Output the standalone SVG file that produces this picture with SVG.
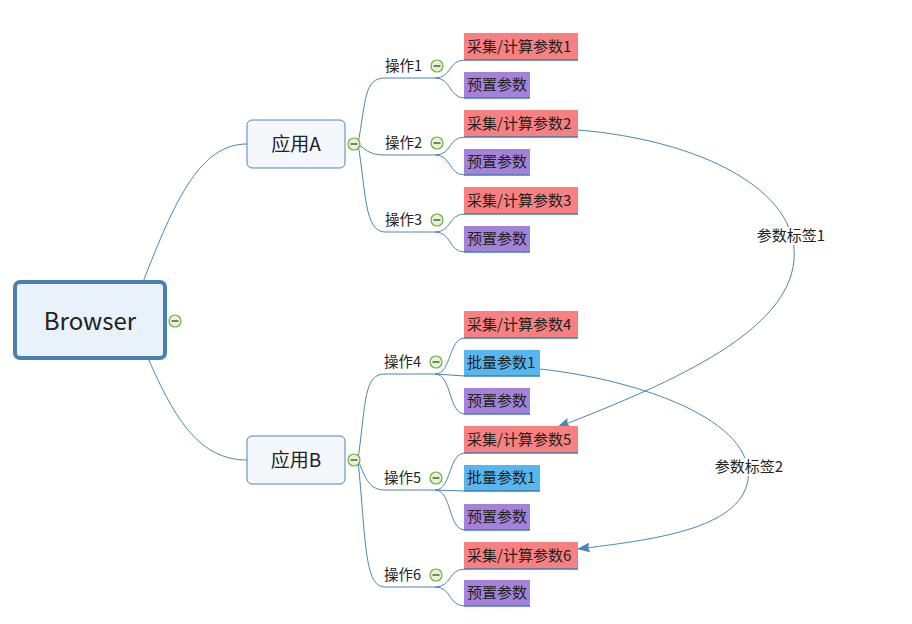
<svg xmlns="http://www.w3.org/2000/svg" width="912" height="624" viewBox="0 0 912 624">
<defs>
<style>
text{font-family:"Microsoft YaHei","Noto Sans CJK SC","Noto Sans",sans-serif;fill:#222}
.ln{fill:none;stroke:#4a86b4;stroke-width:1}
.red{fill:#f88080}
.pur{fill:#a582da}
.blu{fill:#58b6ee}
.bl{stroke:#3f7eb0;stroke-width:1.5}
.t{font-size:15px}
.o{font-size:14.5px}
.cc{fill:#e6f4d4;stroke:#6aae3c;stroke-width:1.2}
.cm{stroke:#333;stroke-width:1.2}
</style>
<marker id="ah" viewBox="0 0 13 10" refX="12" refY="5" markerWidth="13" markerHeight="10" markerUnits="userSpaceOnUse" orient="auto">
<path d="M0,0 L13,5 L0,10 L2,5 Z" fill="#4a86b4"/>
</marker>
</defs>
<rect width="912" height="624" fill="#fff"/>
<g id="connectors">
<path class="ln" d="M143,282 C175,200 200,144 247,144"/>
<path class="ln" d="M148,358 C175,420 200,460 247,460"/>
<path class="ln" d="M358,144 C366,100 364,78 385,78 L435,78"/>
<path class="ln" d="M358,144 C366,150 370,155 385,155 L435,155"/>
<path class="ln" d="M358,144 C366,190 364,232 385,232 L435,232"/>
<path class="ln" d="M358,460 C366,400 364,374 385,374 L435,374"/>
<path class="ln" d="M358,460 C366,480 370,490 385,490 L435,490"/>
<path class="ln" d="M358,460 C366,540 364,587 385,587 L435,587"/>
<path class="ln" d="M435,78 C452,78 448,60 465,60"/>
<path class="ln" d="M435,78 C452,78 448,98 465,98"/>
<path class="ln" d="M435,155 C452,155 448,137 465,137"/>
<path class="ln" d="M435,155 C452,155 448,175 465,175"/>
<path class="ln" d="M435,232 C452,232 448,214 465,214"/>
<path class="ln" d="M435,232 C452,232 448,252 465,252"/>
<path class="ln" d="M435,374 C452,374 448,338 465,338"/>
<path class="ln" d="M435,374 L465,376"/>
<path class="ln" d="M435,374 C452,374 448,414 465,414"/>
<path class="ln" d="M435,490 C452,490 448,453 465,453"/>
<path class="ln" d="M435,490 L465,491"/>
<path class="ln" d="M435,490 C452,490 448,530 465,530"/>
<path class="ln" d="M435,587 C452,587 448,569 465,569"/>
<path class="ln" d="M435,587 C452,587 448,606 465,606"/>
<path class="ln" d="M578,130 C700,140 800,190 794,260 C788,330 680,380 558,427" marker-end="url(#ah)"/>
<path class="ln" d="M540,369 C640,380 755,420 748,480 C740,530 650,540 578,549" marker-end="url(#ah)"/>
</g>
<g id="rel-label-1"><rect x="754" y="227" width="74" height="18" fill="#fff"/><text x="791" y="241" class="t" text-anchor="middle">参数标签1</text></g>
<g id="rel-label-2"><rect x="712" y="458" width="74" height="18" fill="#fff"/><text x="749" y="472" class="t" text-anchor="middle">参数标签2</text></g>
<g id="browser">
<rect x="15" y="282" width="150" height="76" rx="5" fill="#e9f1fb" stroke="#4a80ad" stroke-width="4"/>
<text x="90" y="330" font-size="24" text-anchor="middle">Browser</text>
<circle class="cc" cx="175" cy="321" r="6"/><line class="cm" x1="171.5" y1="321" x2="178.5" y2="321"/>
</g>
<g id="appA">
<rect x="247" y="120" width="98" height="48" rx="5" fill="#f4f7fc" stroke="#4a86b4" stroke-width="1"/>
<text x="296" y="151" font-size="19" text-anchor="middle">应用A</text>
<circle class="cc" cx="354" cy="144" r="6"/><line class="cm" x1="350.5" y1="144" x2="357.5" y2="144"/>
</g>
<g id="appB">
<rect x="247" y="436" width="98" height="48" rx="5" fill="#f4f7fc" stroke="#4a86b4" stroke-width="1"/>
<text x="296" y="467" font-size="19" text-anchor="middle">应用B</text>
<circle class="cc" cx="354" cy="460" r="6"/><line class="cm" x1="350.5" y1="460" x2="357.5" y2="460"/>
</g>
<g id="op1"><text x="385" y="71" class="o">操作1</text><circle class="cc" cx="437" cy="66" r="6"/><line class="cm" x1="433.5" y1="66" x2="440.5" y2="66"/></g>
<g id="op2"><text x="385" y="148" class="o">操作2</text><circle class="cc" cx="437" cy="143" r="6"/><line class="cm" x1="433.5" y1="143" x2="440.5" y2="143"/></g>
<g id="op3"><text x="385" y="225" class="o">操作3</text><circle class="cc" cx="437" cy="220" r="6"/><line class="cm" x1="433.5" y1="220" x2="440.5" y2="220"/></g>
<g id="op4"><text x="384" y="367" class="o">操作4</text><circle class="cc" cx="436" cy="362" r="6"/><line class="cm" x1="432.5" y1="362" x2="439.5" y2="362"/></g>
<g id="op5"><text x="384" y="483" class="o">操作5</text><circle class="cc" cx="436" cy="478" r="6"/><line class="cm" x1="432.5" y1="478" x2="439.5" y2="478"/></g>
<g id="op6"><text x="384" y="580" class="o">操作6</text><circle class="cc" cx="436" cy="575" r="6"/><line class="cm" x1="432.5" y1="575" x2="439.5" y2="575"/></g>
<g id="r1"><rect class="red" x="464" y="33" width="114" height="27"/><line class="bl" x1="464" y1="60" x2="578" y2="60"/><text x="467" y="52" class="t">采集/计算参数1</text></g>
<g id="p1"><rect class="pur" x="464" y="72" width="66" height="26"/><line class="bl" x1="464" y1="98" x2="530" y2="98"/><text x="467" y="90" class="t">预置参数</text></g>
<g id="r2"><rect class="red" x="464" y="110" width="114" height="27"/><line class="bl" x1="464" y1="137" x2="578" y2="137"/><text x="467" y="129" class="t">采集/计算参数2</text></g>
<g id="p2"><rect class="pur" x="464" y="149" width="66" height="26"/><line class="bl" x1="464" y1="175" x2="530" y2="175"/><text x="467" y="167" class="t">预置参数</text></g>
<g id="r3"><rect class="red" x="464" y="187" width="114" height="27"/><line class="bl" x1="464" y1="214" x2="578" y2="214"/><text x="467" y="206" class="t">采集/计算参数3</text></g>
<g id="p3"><rect class="pur" x="464" y="226" width="66" height="26"/><line class="bl" x1="464" y1="252" x2="530" y2="252"/><text x="467" y="244" class="t">预置参数</text></g>
<g id="r4"><rect class="red" x="464" y="311" width="114" height="27"/><line class="bl" x1="464" y1="338" x2="578" y2="338"/><text x="467" y="330" class="t">采集/计算参数4</text></g>
<g id="b1"><rect class="blu" x="464" y="350" width="76" height="26"/><line class="bl" x1="464" y1="376" x2="540" y2="376"/><text x="467" y="368" class="t">批量参数1</text></g>
<g id="p4"><rect class="pur" x="464" y="388" width="66" height="26"/><line class="bl" x1="464" y1="414" x2="530" y2="414"/><text x="467" y="406" class="t">预置参数</text></g>
<g id="r5"><rect class="red" x="464" y="426" width="114" height="27"/><line class="bl" x1="464" y1="453" x2="578" y2="453"/><text x="467" y="445" class="t">采集/计算参数5</text></g>
<g id="b2"><rect class="blu" x="464" y="465" width="76" height="26"/><line class="bl" x1="464" y1="491" x2="540" y2="491"/><text x="467" y="483" class="t">批量参数1</text></g>
<g id="p5"><rect class="pur" x="464" y="504" width="66" height="26"/><line class="bl" x1="464" y1="530" x2="530" y2="530"/><text x="467" y="522" class="t">预置参数</text></g>
<g id="r6"><rect class="red" x="464" y="542" width="114" height="27"/><line class="bl" x1="464" y1="569" x2="578" y2="569"/><text x="467" y="561" class="t">采集/计算参数6</text></g>
<g id="p6"><rect class="pur" x="464" y="580" width="66" height="26"/><line class="bl" x1="464" y1="606" x2="530" y2="606"/><text x="467" y="598" class="t">预置参数</text></g>
</svg>
